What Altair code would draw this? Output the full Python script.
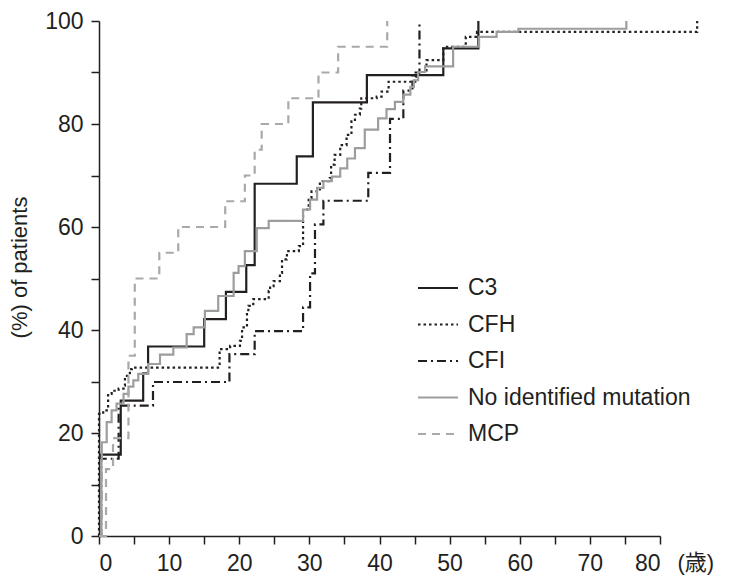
import altair as alt
import pandas as pd

# ---- data (age in years, cumulative % of patients) ----
c3_x = [0, 0.3, 3.1, 6.3, 7.0, 15.0, 18.1, 21.0, 22.2, 28.2, 30.5, 38.2, 49.1, 54.1]
c3_y = [0, 15.8, 26.3, 31.6, 36.8, 42.1, 47.4, 52.6, 68.4, 73.7, 84.2, 89.5, 94.7, 100]

cfh_x = [0, 0, 0.6, 1.3, 1.8, 2.8, 3.5, 3.7, 4.4, 4.7, 17.2, 18.7, 20.1, 20.4, 21.1,
         21.3, 22.0, 24.2, 24.4, 24.9, 25.8, 26.1, 26.8, 28.5, 29.1, 29.9, 30.3, 31.5,
         32.9, 33.1, 33.6, 34.4, 35.3, 36.0, 36.5, 37.2, 37.4, 39.6, 40.3, 41.3, 45.1,
         45.6, 46.7, 49.1, 52.3, 53.9, 85.3]
cfh_y = [0, 23.7, 24.4, 27.6, 28.2, 28.6, 29.2, 31.1, 32.4, 32.7, 36.3, 36.9, 37.9, 40.5,
         43.1, 44.7, 46.0, 47.6, 48.5, 49.5, 51.1, 53.7, 55.3, 56.3, 63.4, 65.6, 66.9,
         68.9, 69.5, 72.1, 74.0, 75.9, 77.9, 80.5, 81.8, 83.0, 85.0, 85.3, 86.3, 88.2,
         89.2, 90.1, 92.4, 95.0, 96.9, 97.9, 100]

cfi_x = [0, 0.3, 2.8, 7.7, 18.6, 22.2, 29.1, 30.1, 30.8, 32.0, 38.4, 41.5, 43.4, 44.7, 45.7]
cfi_y = [0, 15.0, 25.3, 29.9, 35.3, 39.8, 44.4, 51.0, 60.5, 65.1, 70.5, 81.0, 86.5, 90.0, 100]

nim_x = [0, 0.3, 0.4, 1.1, 1.8, 2.5, 3.5, 4.2, 4.9, 5.6, 7.0, 8.7, 10.6, 12.5, 13.5, 15.1,
         17.0, 19.2, 19.9, 20.8, 22.5, 24.2, 29.1, 30.1, 31.1, 32.0, 33.2, 34.4, 35.4,
         36.5, 37.9, 39.8, 41.0, 42.2, 43.4, 44.4, 44.9, 45.5, 46.5, 50.5, 54.2, 56.7,
         59.8, 75.2]
nim_y = [0, 14.7, 18.2, 22.1, 24.4, 25.7, 27.6, 29.0, 30.2, 31.5, 33.4, 35.2, 36.6, 39.2,
         40.5, 43.7, 46.6, 51.1, 52.4, 55.3, 59.8, 61.2, 63.4, 65.3, 67.6, 68.9, 69.8,
         71.4, 73.3, 75.3, 78.9, 81.1, 82.9, 84.3, 85.7, 87.2, 88.5, 90.1, 91.2, 95.0,
         96.9, 97.9, 98.5, 100]

mcp_x = [0, 1.0, 2.0, 4.2, 5.1, 8.6, 11.3, 18.0, 20.8, 22.2, 23.2, 27.0, 31.3, 34.1, 41.1]
mcp_y = [0, 13.0, 19.0, 35.0, 50.0, 55.0, 60.0, 65.0, 70.0, 75.0, 80.0, 85.0, 90.0, 95.0, 100]

groups = ["C3", "CFH", "CFI", "No identified mutation", "MCP"]
x_ticks = list(range(0, 81, 5))
y_ticks = list(range(0, 101, 10))

# ---- styling ----
colors = ["#231f20", "#231f20", "#231f20", "#9d9d9d", "#a9a9a9"]
dashes = [[1, 0], [2.5, 3], [9, 4, 2, 4], [1, 0], [8, 6]]
FONT = "Liberation Sans, Noto Sans CJK JP"
INK = "#231f20"

series = [(c3_x, c3_y), (cfh_x, cfh_y), (cfi_x, cfi_y), (nim_x, nim_y), (mcp_x, mcp_y)]
rows = []
for g, (xs, ys) in zip(groups, series):
    for i, (xv, yv) in enumerate(zip(xs, ys)):
        rows.append({"group": g, "age": xv, "pct": yv, "order": i})
df = pd.DataFrame(rows)

legend = alt.Legend(
    title=None, orient="none", legendX=318, legendY=246, padding=0,
    symbolType="stroke", symbolSize=1600, symbolStrokeWidth=2,
    labelFont=FONT, labelFontSize=23, labelColor=INK, labelOffset=9,
    rowPadding=3.5, labelLimit=400,
)

chart = alt.Chart(df).mark_line(interpolate="step-after", strokeWidth=2.2).encode(
    x=alt.X("age:Q",
            scale=alt.Scale(domain=[0, 80], nice=False),
            axis=alt.Axis(values=x_ticks,
                          labelExpr="datum.value % 10 === 0 ? datum.label : ''",
                          labelPadding=8,
                          title="(歳)", titleX=578, titleY=26, titleAlign="left",
                          titleBaseline="middle", titleFontSize=22,
                          titleFontWeight="normal")),
    y=alt.Y("pct:Q",
            scale=alt.Scale(domain=[0, 100], nice=False),
            axis=alt.Axis(values=y_ticks,
                          labelExpr="datum.value % 20 === 0 ? datum.label : ''",
                          labelPadding=8,
                          title="(%) of patients", titleFontSize=22, titleY=246,
                          titleFontWeight="normal", titlePadding=13)),
    color=alt.Color("group:N", scale=alt.Scale(domain=groups, range=colors), legend=legend),
    strokeDash=alt.StrokeDash("group:N", scale=alt.Scale(domain=groups, range=dashes), legend=legend),
    order=alt.Order("order:Q"),
).properties(
    width=561, height=515,
    padding={"left": 91, "top": 13, "right": 60, "bottom": 41},
    autosize=alt.AutoSizeParams(type="none"),
).configure_view(stroke=None).configure_axis(
    grid=False, domainColor=INK, domainWidth=1.5, tickColor=INK, tickWidth=1.5,
    tickSize=8, labelFont=FONT, labelFontSize=23, labelColor=INK, labelPadding=5,
    titleFont=FONT, titleColor=INK,
)

chart.save("out.html", embed_options={"renderer": "svg", "actions": False})
